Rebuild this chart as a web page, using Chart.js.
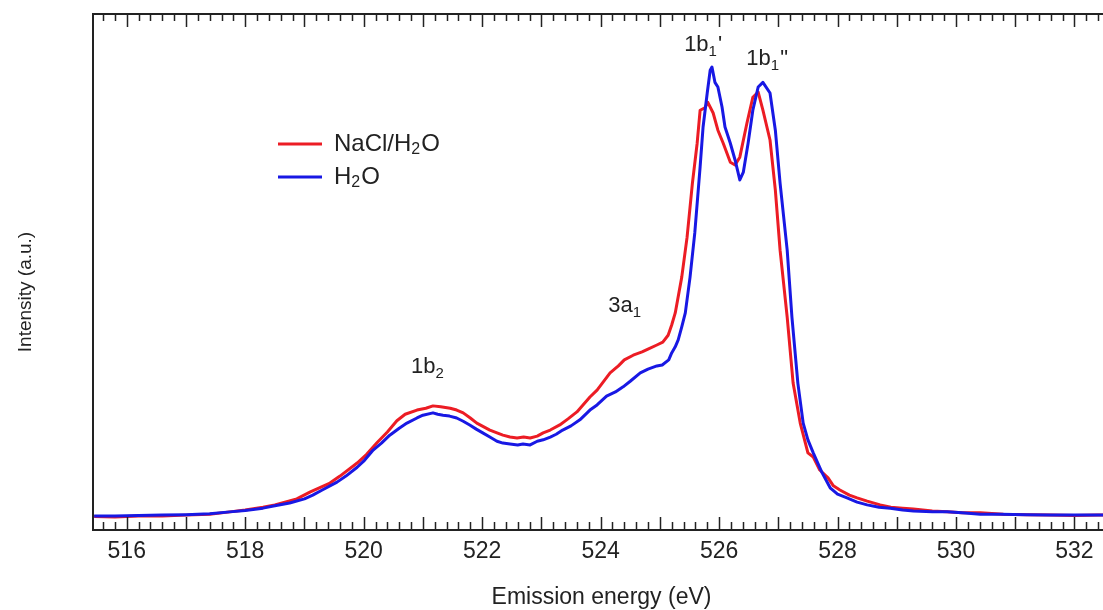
<!DOCTYPE html>
<html>
<head>
<meta charset="utf-8">
<script src="https://cdn.jsdelivr.net/npm/chart.js@4.4.1/dist/chart.umd.min.js"></script>
<style>
  html, body { margin: 0; padding: 0; background: #fff; overflow: hidden; }
  #wrap { width: 1110px; height: 610px; }
</style>
</head>
<body>
<div id="wrap"><canvas id="myChart"></canvas></div>
<script>
// H2O spectrum (blue), energy in eV, intensity in a.u.
const energyH2O = [515.45, 515.8, 516.2, 516.6, 517.0, 517.4, 517.74, 518.0, 518.3, 518.5, 518.75, 519.0, 519.14, 519.3, 519.55, 519.7, 519.89, 520.0, 520.16, 520.3, 520.44, 520.6, 520.73, 520.9, 521.0, 521.17, 521.25, 521.34, 521.45, 521.57, 521.68, 521.79, 521.9, 522.01, 522.13, 522.25, 522.35, 522.47, 522.6, 522.69, 522.81, 522.93, 523.03, 523.15, 523.25, 523.36, 523.5, 523.65, 523.82, 523.94, 524.1, 524.25, 524.38, 524.5, 524.67, 524.8, 524.95, 525.04, 525.15, 525.2, 525.26, 525.31, 525.37, 525.43, 525.51, 525.59, 525.68, 525.73, 525.8, 525.85, 525.88, 525.93, 525.98, 526.05, 526.1, 526.19, 526.27, 526.35, 526.41, 526.49, 526.57, 526.66, 526.74, 526.86, 526.95, 527.03, 527.15, 527.23, 527.33, 527.42, 527.5, 527.59, 527.74, 527.88, 528.0, 528.16, 528.33, 528.5, 528.7, 528.89, 529.1, 529.28, 529.6, 529.85, 530.1, 530.41, 530.75, 531.2, 531.6, 532.0, 532.4, 532.8];
const intensityH2O = [0.030, 0.030, 0.031, 0.032, 0.033, 0.035, 0.039, 0.042, 0.047, 0.052, 0.058, 0.067, 0.075, 0.086, 0.103, 0.116, 0.135, 0.148, 0.172, 0.187, 0.204, 0.219, 0.230, 0.241, 0.247, 0.252, 0.249, 0.247, 0.245, 0.241, 0.234, 0.226, 0.217, 0.209, 0.200, 0.191, 0.187, 0.185, 0.183, 0.185, 0.183, 0.191, 0.194, 0.200, 0.206, 0.215, 0.224, 0.237, 0.258, 0.269, 0.288, 0.297, 0.308, 0.320, 0.338, 0.346, 0.353, 0.355, 0.366, 0.381, 0.394, 0.409, 0.437, 0.467, 0.544, 0.639, 0.781, 0.867, 0.940, 0.989, 0.996, 0.963, 0.953, 0.910, 0.867, 0.832, 0.796, 0.753, 0.770, 0.832, 0.903, 0.953, 0.963, 0.940, 0.860, 0.746, 0.602, 0.458, 0.316, 0.230, 0.194, 0.166, 0.123, 0.090, 0.077, 0.069, 0.060, 0.054, 0.049, 0.047, 0.043, 0.041, 0.039, 0.039, 0.037, 0.034, 0.034, 0.033, 0.032, 0.032, 0.032, 0.032];

// NaCl/H2O spectrum (red)
const energyNaCl = [515.45, 515.8, 516.2, 516.6, 517.0, 517.4, 517.74, 518.0, 518.3, 518.5, 518.87, 519.1, 519.43, 519.6, 519.89, 520.05, 520.22, 520.4, 520.56, 520.7, 520.9, 521.05, 521.17, 521.3, 521.46, 521.57, 521.68, 521.8, 521.91, 522.13, 522.35, 522.47, 522.59, 522.7, 522.81, 522.93, 523.03, 523.15, 523.31, 523.45, 523.6, 523.82, 523.94, 524.16, 524.3, 524.4, 524.55, 524.7, 524.8, 524.95, 525.05, 525.14, 525.2, 525.26, 525.37, 525.46, 525.55, 525.63, 525.68, 525.76, 525.81, 525.9, 525.98, 526.07, 526.19, 526.27, 526.35, 526.47, 526.57, 526.66, 526.74, 526.86, 526.95, 527.03, 527.15, 527.25, 527.37, 527.5, 527.59, 527.7, 527.84, 527.93, 528.04, 528.2, 528.33, 528.5, 528.72, 528.9, 529.1, 529.28, 529.6, 529.85, 530.1, 530.41, 530.8, 531.2, 531.6, 532.0, 532.4, 532.8];
const intensityNaCl = [0.029, 0.028, 0.030, 0.030, 0.032, 0.034, 0.039, 0.043, 0.049, 0.054, 0.067, 0.082, 0.101, 0.116, 0.144, 0.163, 0.187, 0.211, 0.235, 0.249, 0.258, 0.262, 0.267, 0.265, 0.262, 0.258, 0.252, 0.241, 0.230, 0.215, 0.204, 0.200, 0.198, 0.200, 0.198, 0.202, 0.209, 0.215, 0.226, 0.239, 0.254, 0.286, 0.301, 0.338, 0.353, 0.366, 0.376, 0.383, 0.389, 0.398, 0.404, 0.419, 0.441, 0.467, 0.544, 0.630, 0.746, 0.832, 0.903, 0.908, 0.920, 0.897, 0.860, 0.832, 0.791, 0.785, 0.802, 0.875, 0.931, 0.942, 0.903, 0.839, 0.731, 0.602, 0.458, 0.316, 0.230, 0.166, 0.157, 0.129, 0.112, 0.095, 0.086, 0.075, 0.069, 0.062, 0.054, 0.049, 0.047, 0.045, 0.041, 0.039, 0.037, 0.037, 0.034, 0.033, 0.032, 0.031, 0.032, 0.032];

// peak labels: [main text, subscript, suffix, energy, intensity]
const peakLabels = [
    ['1b', '2', '', 520.80, 0.338],
    ['3a', '1', '', 524.13, 0.469],
    ['1b', '1', "'", 525.41, 1.030],
    ['1b', '1', '"', 526.46, 1.000]
];

const xMin = 515.43;
const xMax = 532.6;
const yMin = 0;
const yMax = 1.11;

const FONT = '"Liberation Sans", Arial, sans-serif';
const INK = '#222';
const RED = 'rgb(236, 28, 36)';
const BLUE = 'rgb(24, 24, 228)';

function toPoints(xs, ys) {
    return xs.map((x, i) => ({ x: x, y: ys[i] }));
}

// draws text with a subscript part, starting at x, on baseline y
function drawSub(ctx, x, y, main, sub, rest, size) {
    ctx.font = size + 'px ' + FONT;
    ctx.fillText(main, x, y);
    x += ctx.measureText(main).width;
    ctx.font = Math.round(size * 0.66) + 'px ' + FONT;
    ctx.fillText(sub, x, y + size * 0.22);
    x += ctx.measureText(sub).width + 1;
    ctx.font = size + 'px ' + FONT;
    ctx.fillText(rest, x, y);
}

const framePlugin = {
    id: 'frame',
    afterDraw(chart) {
        const ctx = chart.ctx;
        const area = chart.chartArea;
        const xs = chart.scales.x;
        const ys = chart.scales.y;
        ctx.save();
        ctx.strokeStyle = INK;
        ctx.fillStyle = INK;

        // frame: left, top, bottom
        ctx.lineWidth = 2;
        ctx.beginPath();
        ctx.moveTo(area.right + 5, area.top);
        ctx.lineTo(area.left, area.top);
        ctx.lineTo(area.left, area.bottom);
        ctx.lineTo(area.right + 5, area.bottom);
        ctx.stroke();

        // inward ticks, minor every 0.2 eV, major every 1 eV
        ctx.lineWidth = 1.5;
        ctx.beginPath();
        for (let k = Math.ceil(xMin * 5); k <= xMax * 5; k++) {
            const px = Math.round(xs.getPixelForValue(k / 5)) + 0.5;
            const major = k % 5 === 0;
            ctx.moveTo(px, area.top);
            ctx.lineTo(px, area.top + (major ? 13 : 7));
            ctx.moveTo(px, area.bottom);
            ctx.lineTo(px, area.bottom - (major ? 13 : 8));
        }
        ctx.stroke();

        // y axis title
        ctx.save();
        ctx.translate(area.left - 67, (area.top + area.bottom) / 2 + 20);
        ctx.rotate(-Math.PI / 2);
        ctx.font = '19px ' + FONT;
        ctx.textAlign = 'center';
        ctx.textBaseline = 'middle';
        ctx.fillText('Intensity (a.u.)', 0, 0);
        ctx.restore();

        // legend
        const lx = area.left + 185;
        const rows = [[RED, 'NaCl/H', '2', 'O', 144], [BLUE, 'H', '2', 'O', 177]];
        ctx.textBaseline = 'middle';
        ctx.lineWidth = 3;
        rows.forEach(r => {
            ctx.strokeStyle = r[0];
            ctx.beginPath();
            ctx.moveTo(lx, r[4]);
            ctx.lineTo(lx + 44, r[4]);
            ctx.stroke();
            drawSub(ctx, lx + 56, r[4], r[1], r[2], r[3], 24);
        });

        // peak labels
        ctx.textBaseline = 'alphabetic';
        peakLabels.forEach(p => {
            drawSub(ctx, xs.getPixelForValue(p[3]), ys.getPixelForValue(p[4]), p[0], p[1], p[2], 22);
        });
        ctx.restore();
    }
};

function initChart() {
    const ctx = document.getElementById('myChart').getContext('2d');
    new Chart(ctx, {
        type: 'line',
        data: {
            datasets: [{
                label: 'H2O',
                data: toPoints(energyH2O, intensityH2O),
                borderColor: BLUE,
                borderWidth: 3,
                pointRadius: 0,
                tension: 0,
                borderJoinStyle: 'round'
            }, {
                label: 'NaCl/H2O',
                data: toPoints(energyNaCl, intensityNaCl),
                borderColor: RED,
                borderWidth: 3,
                pointRadius: 0,
                tension: 0,
                borderJoinStyle: 'round'
            }]
        },
        options: {
            responsive: true,
            maintainAspectRatio: false,
            animation: false,
            layout: { padding: { top: 14, left: 0, right: 0, bottom: 0 } },
            plugins: {
                legend: { display: false },
                tooltip: { enabled: false }
            },
            scales: {
                x: {
                    type: 'linear',
                    min: xMin,
                    max: xMax,
                    grid: { display: false, drawTicks: false },
                    border: { display: false },
                    ticks: {
                        stepSize: 2,
                        includeBounds: false,
                        autoSkip: false,
                        maxRotation: 0,
                        padding: 8,
                        color: INK,
                        font: { family: FONT, size: 23 }
                    },
                    title: {
                        display: true,
                        text: 'Emission energy (eV)',
                        color: INK,
                        font: { family: FONT, size: 23, lineHeight: 1.0 },
                        padding: { top: 0, bottom: 1 }
                    },
                    afterFit(scale) { scale.height = 80; }
                },
                y: {
                    min: yMin,
                    max: yMax,
                    grid: { display: false, drawTicks: false },
                    border: { display: false },
                    ticks: { display: false },
                    afterFit(scale) { scale.width = 93; }
                }
            }
        },
        plugins: [framePlugin]
    });
}

initChart();
</script>
</body>
</html>
